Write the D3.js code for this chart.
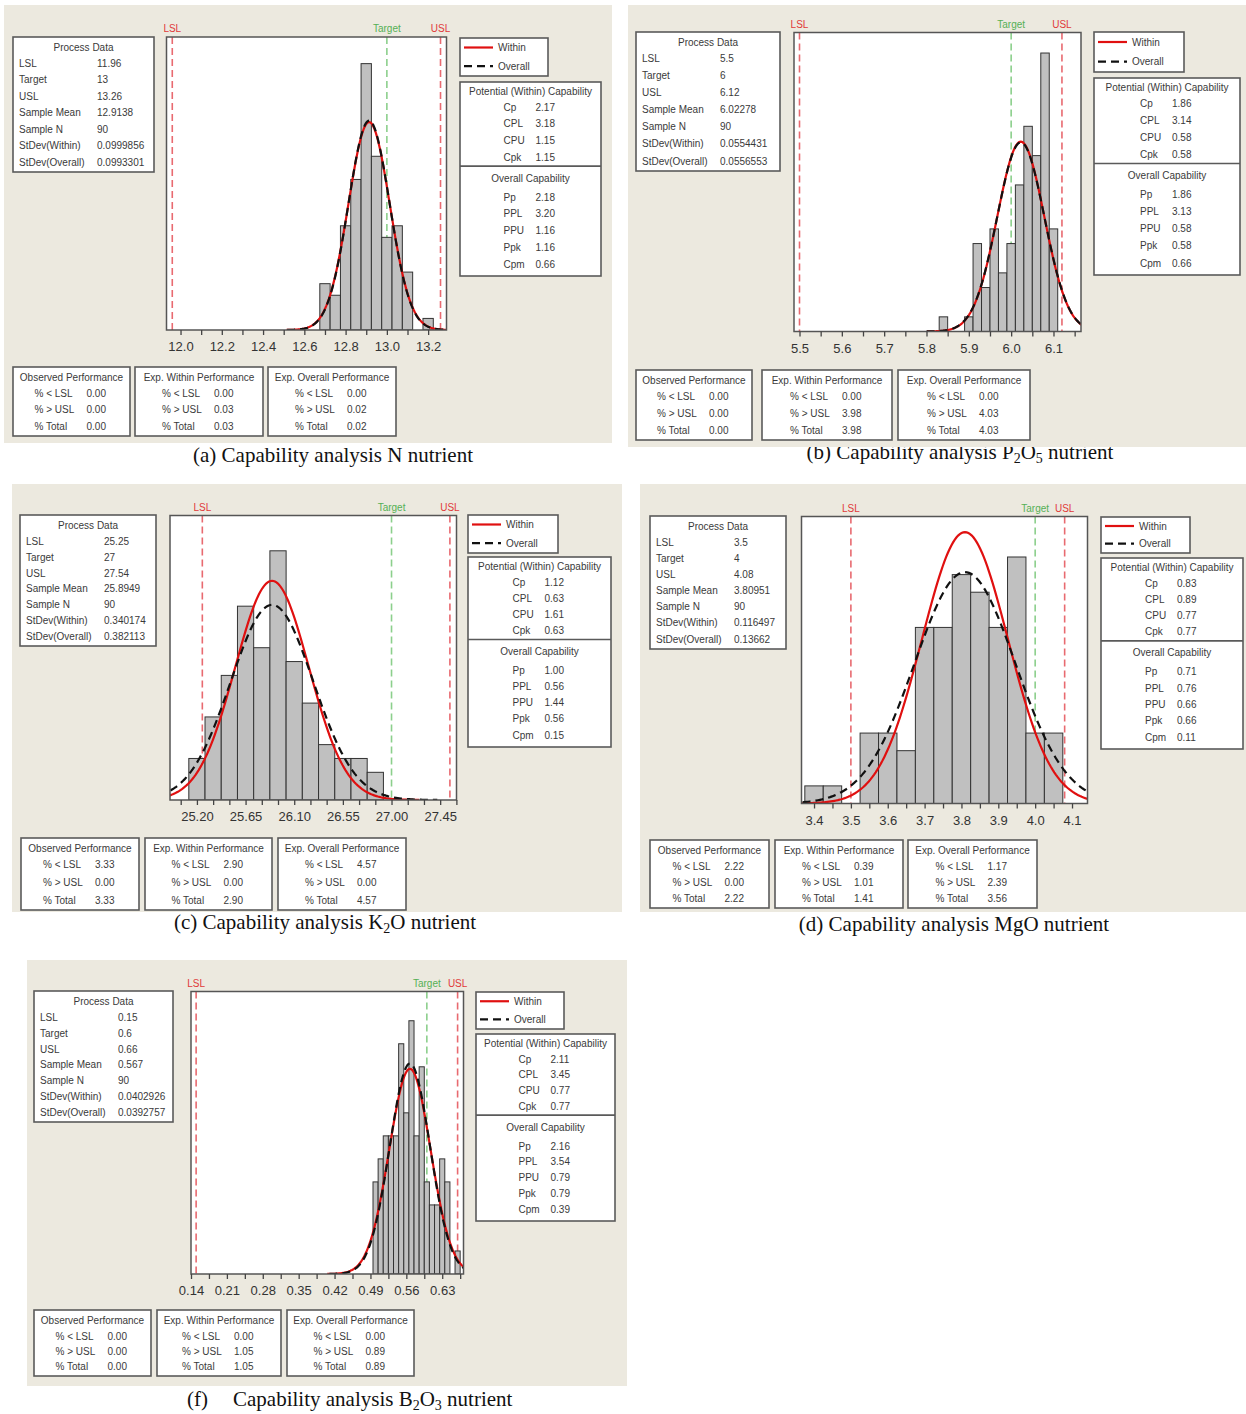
<!DOCTYPE html>
<html>
<head>
<meta charset="utf-8">
<script src="https://cdn.jsdelivr.net/npm/d3@7"></script>
<style>
  body { margin: 0; background: #fff; }
  svg { display: block; }
  text { font-family: 'Liberation Sans', Arial, sans-serif; }
  text.caption { font-family: 'Liberation Serif', 'Times New Roman', serif; }
</style>
</head>
<body>
<svg id="chart"></svg>
<script>
// ---- data ----
// (a) N
const nBins = [12.70, 12.75, 12.80, 12.85, 12.90, 12.95, 13.00, 13.05, 13.10, 13.15, 13.20]
const nCounts = [4, 3, 9, 13, 23, 15, 8, 9, 5, 0, 1]
const nProcess = [11.96, 13, 13.26, 12.9138, 90, 0.0999856, 0.0993301]
const nCapability = [2.17, 3.18, 1.15, 1.15, 2.18, 3.20, 1.16, 1.16, 0.66]
const nPerformance = [[0, 0, 0], [0, 0.03, 0.03], [0, 0.02, 0.02]]
const nTicks = [12.0, 12.2, 12.4, 12.6, 12.8, 13.0, 13.2]

// (b) P2O5
const pBins = [5.84, 5.86, 5.88, 5.90, 5.92, 5.94, 5.96, 5.98, 6.00, 6.02, 6.04, 6.06, 6.08, 6.10]
const pCounts = [1, 0, 0, 1, 6, 3, 7, 4, 6, 10, 14, 12, 19, 7]
const pProcess = [5.5, 6, 6.12, 6.02278, 90, 0.0554431, 0.0556553]
const pCapability = [1.86, 3.14, 0.58, 0.58, 1.86, 3.13, 0.58, 0.58, 0.66]
const pPerformance = [[0, 0, 0], [0, 3.98, 3.98], [0, 4.03, 4.03]]
const pTicks = [5.5, 5.6, 5.7, 5.8, 5.9, 6.0, 6.1]

// (c) K2O
const kBins = [25.20, 25.35, 25.50, 25.65, 25.80, 25.95, 26.10, 26.25, 26.40, 26.55, 26.70, 26.85]
const kCounts = [3, 6, 9, 14, 11, 18, 10, 7, 4, 3, 3, 2]
const kProcess = [25.25, 27, 27.54, 25.8949, 90, 0.340174, 0.382113]
const kCapability = [1.12, 0.63, 1.61, 0.63, 1.00, 0.56, 1.44, 0.56, 0.15]
const kPerformance = [[3.33, 0, 3.33], [2.90, 0, 2.90], [4.57, 0, 4.57]]
const kTicks = [25.20, 25.65, 26.10, 26.55, 27.00, 27.45]

// (d) MgO
const mBins = [3.40, 3.45, 3.50, 3.55, 3.60, 3.65, 3.70, 3.75, 3.80, 3.85, 3.90, 3.95, 4.00, 4.05]
const mCounts = [1, 1, 0, 4, 4, 3, 10, 10, 13, 12, 10, 14, 4, 4]
const mProcess = [3.5, 4, 4.08, 3.80951, 90, 0.116497, 0.13662]
const mCapability = [0.83, 0.89, 0.77, 0.77, 0.71, 0.76, 0.66, 0.66, 0.11]
const mPerformance = [[2.22, 0, 2.22], [0.39, 1.01, 1.41], [1.17, 2.39, 3.56]]
const mTicks = [3.4, 3.5, 3.6, 3.7, 3.8, 3.9, 4.0, 4.1]

// (f) B2O3
const bBins = [0.50, 0.51, 0.52, 0.53, 0.54, 0.55, 0.56, 0.57, 0.58, 0.59, 0.60, 0.61, 0.62, 0.63, 0.64, 0.65, 0.66]
const bCounts = [4, 5, 6, 6, 6, 10, 7, 11, 6, 9, 4, 3, 3, 5, 4, 0, 1]
const bProcess = [0.15, 0.6, 0.66, 0.567, 90, 0.0402926, 0.0392757]
const bCapability = [2.11, 3.45, 0.77, 0.77, 2.16, 3.54, 0.79, 0.79, 0.39]
const bPerformance = [[0, 0, 0], [0, 1.05, 1.05], [0, 0.89, 0.89]]
const bTicks = [0.14, 0.21, 0.28, 0.35, 0.42, 0.49, 0.56, 0.63]

const procLabels = ['LSL', 'Target', 'USL', 'Sample Mean', 'Sample N', 'StDev(Within)', 'StDev(Overall)']
const capLabels = ['Cp', 'CPL', 'CPU', 'Cpk', 'Pp', 'PPL', 'PPU', 'Ppk', 'Cpm']
const perfTitles = ['Observed Performance', 'Exp. Within Performance', 'Exp. Overall Performance']
const perfLabels = ['% < LSL', '% > USL', '% Total']

// ---- layout of each panel (pixel boxes are [x0, y0, x1, y1]) ----
let panels = [
  {bins: nBins, counts: nCounts, proc: nProcess, cap: nCapability, perf: nPerformance, ticks: nTicks,
   minor: 0.1, fmt: '.1f', xDomain: [11.932, 13.289], yMax: 25.3,
   bg: [4, 5, 612, 443], procBox: [13, 37, 154, 172], plot: [166.5, 37, 446.5, 330],
   legend: [460, 38, 548, 76], capBox: [460, 82, 601, 276],
   perfY: [367, 436], perfX: [[13, 130], [135, 263], [268, 396]],
   caption: {x: 333, y: 456, parts: [['(a) Capability analysis N nutrient']]}},
  {bins: pBins, counts: pCounts, proc: pProcess, cap: pCapability, perf: pPerformance, ticks: pTicks,
   minor: 0.05, fmt: '.1f', xDomain: [5.487, 6.165], yMax: 20.4,
   bg: [628, 5, 1246, 447], procBox: [636, 32, 780, 171], plot: [794, 32.5, 1081, 331.5],
   legend: [1094, 32, 1184, 72], capBox: [1094, 78, 1240, 275],
   perfY: [370, 440], perfX: [[636, 752], [762, 892], [898, 1030]],
   caption: {x: 960, y: 453, parts: [['(b) Capability analysis P'], ['2', 1], ['O'], ['5', 1], [' nutrient']]}},
  {bins: kBins, counts: kCounts, proc: kProcess, cap: kCapability, perf: kPerformance, ticks: kTicks,
   minor: 0.15, fmt: '.2f', xDomain: [24.951, 27.601], yMax: 20.55,
   bg: [12, 484, 622, 912], procBox: [20, 515, 156, 646], plot: [170, 515.5, 456.5, 800],
   legend: [468, 515, 558, 553], capBox: [468, 557, 611, 747],
   perfY: [838, 910], perfX: [[21, 139], [145, 272], [278, 406]],
   caption: {x: 325, y: 923, parts: [['(c) Capability analysis K'], ['2', 1], ['O nutrient']]}},
  {bins: mBins, counts: mCounts, proc: mProcess, cap: mCapability, perf: mPerformance, ticks: mTicks,
   minor: 0.05, fmt: '.1f', xDomain: [3.366, 4.142], yMax: 16.3,
   bg: [640, 484, 1246, 912], procBox: [650, 516, 786, 649], plot: [801.5, 516.5, 1087.5, 803.5],
   legend: [1101, 517, 1190, 553], capBox: [1101, 558, 1243, 749],
   perfY: [840, 908], perfX: [[650, 769], [775, 903], [908, 1037]],
   caption: {x: 954, y: 925, parts: [['(d) Capability analysis MgO nutrient']]}},
  {bins: bBins, counts: bCounts, proc: bProcess, cap: bCapability, perf: bPerformance, ticks: bTicks,
   minor: 0.035, fmt: '.2f', xDomain: [0.140, 0.6715], yMax: 12.27,
   bg: [27, 960, 627, 1386], procBox: [34, 991, 173, 1122], plot: [191, 991.5, 463.5, 1274],
   legend: [476, 992, 564, 1029], capBox: [476, 1034, 615, 1221],
   perfY: [1310, 1376], perfX: [[34, 151], [157, 281], [287, 414]],
   caption: {x: 233, y: 1400, anchor: 'start', prefix: '(f)', prefixX: 187,
             parts: [['Capability analysis B'], ['2', 1], ['O'], ['3', 1], [' nutrient']]}}
]

let w = 1246
let h = 1414
let textCol = '#3a3a3a'
let boxFont = 10

let svg = d3.select('#chart').attr('width', w).attr('height', h)

let addBox = (g, r) => {
  g.append('rect')
    .attr('x', r[0]).attr('y', r[1])
    .attr('width', r[2] - r[0]).attr('height', r[3] - r[1])
    .attr('fill', '#fff')
    .attr('stroke', '#5a5a5a')
    .attr('stroke-width', 1.6)
}

let addText = (g, x, y, str, anchor) => {
  return g.append('text')
    .attr('x', x).attr('y', y)
    .attr('dy', '0.35em')
    .attr('text-anchor', anchor || 'start')
    .attr('font-size', boxFont)
    .attr('fill', textCol)
    .text(str)
}

let normalPdf = (x, mu, sd) => Math.exp(-0.5 * ((x - mu) / sd) ** 2) / (sd * Math.sqrt(2 * Math.PI))

// captions first: the panel background of (b) sits over the top of its caption
let drawCaption = (p) => {
  let c = p.caption
  if (c.prefix) {
    svg.append('text')
      .attr('class', 'caption')
      .attr('x', c.prefixX).attr('y', c.y + 6)
      .attr('font-size', 21).attr('fill', '#111')
      .text(c.prefix)
  }
  let t = svg.append('text')
    .attr('class', 'caption')
    .attr('x', c.x).attr('y', c.y + 6)
    .attr('text-anchor', c.anchor || 'middle')
    .attr('font-size', 21).attr('fill', '#111')
  c.parts.forEach((part) => {
    let s = t.append('tspan').text(part[0])
    if (part[1]) {
      s.attr('font-size', 14).attr('dy', 4)
    } else if (t.selectAll('tspan').size() > 1) {
      s.attr('dy', -4)
    }
  })
}

let drawPanel = (p, idx) => {
  let g = svg.append('g')

  g.append('rect')
    .attr('x', p.bg[0]).attr('y', p.bg[1])
    .attr('width', p.bg[2] - p.bg[0]).attr('height', p.bg[3] - p.bg[1])
    .attr('fill', '#ece9df')

  // process data
  let pb = p.procBox
  addBox(g, pb)
  let ps = (pb[3] - pb[1] - 36.5) / 6
  addText(g, (pb[0] + pb[2]) / 2, pb[1] + 10, 'Process Data', 'middle')
  procLabels.forEach((lab, i) => {
    let y = pb[1] + 26.5 + i * ps
    addText(g, pb[0] + 6, y, lab)
    addText(g, pb[0] + 84, y, String(p.proc[i]))
  })

  // legend
  let lb = p.legend
  addBox(g, lb)
  let ly1 = lb[1] + (lb[3] - lb[1]) * 0.25
  let ly2 = lb[1] + (lb[3] - lb[1]) * 0.74
  g.append('line').attr('x1', lb[0] + 4).attr('x2', lb[0] + 33).attr('y1', ly1).attr('y2', ly1)
    .attr('stroke', '#e01010').attr('stroke-width', 2.2)
  g.append('line').attr('x1', lb[0] + 4).attr('x2', lb[0] + 33).attr('y1', ly2).attr('y2', ly2)
    .attr('stroke', '#111').attr('stroke-width', 2.2).attr('stroke-dasharray', '8,5')
  addText(g, lb[0] + 38, ly1, 'Within')
  addText(g, lb[0] + 38, ly2, 'Overall')

  // capability
  let cb = p.capBox
  addBox(g, cb)
  let cs = (cb[3] - cb[1] - 77) / 7
  let ccx = (cb[0] + cb[2]) / 2
  let f2 = d3.format('.2f')
  addText(g, ccx, cb[1] + 9, 'Potential (Within) Capability', 'middle')
  for (let i = 0; i < 4; i++) {
    let y = cb[1] + 25 + i * cs
    addText(g, ccx - 27, y, capLabels[i])
    addText(g, ccx + 5, y, f2(p.cap[i]))
  }
  let divY = cb[1] + 25 + 3 * cs + 9
  g.append('line').attr('x1', cb[0]).attr('x2', cb[2]).attr('y1', divY).attr('y2', divY)
    .attr('stroke', '#5a5a5a').attr('stroke-width', 1.6)
  addText(g, ccx, divY + 12, 'Overall Capability', 'middle')
  for (let i = 4; i < 9; i++) {
    let y = divY + 31 + (i - 4) * cs
    addText(g, ccx - 27, y, capLabels[i])
    addText(g, ccx + 5, y, f2(p.cap[i]))
  }

  // performance boxes
  p.perfX.forEach((px, j) => {
    let r = [px[0], p.perfY[0], px[1], p.perfY[1]]
    addBox(g, r)
    let cx = (px[0] + px[1]) / 2
    let s = (r[3] - r[1] - 36) / 2
    addText(g, cx, r[1] + 10, perfTitles[j], 'middle')
    perfLabels.forEach((lab, i) => {
      let y = r[1] + 26 + i * s
      addText(g, cx - 37, y, lab)
      addText(g, cx + 15, y, f2(p.perf[j][i]))
    })
  })

  // histogram
  let pl = p.plot
  let xScale = d3.scaleLinear().domain(p.xDomain).range([pl[0], pl[2]])
  let yScale = d3.scaleLinear().domain([0, p.yMax]).range([pl[3], pl[1]])
  let clipId = 'clip' + idx
  g.append('clipPath').attr('id', clipId)
    .append('rect').attr('x', pl[0]).attr('y', pl[1])
    .attr('width', pl[2] - pl[0]).attr('height', pl[3] - pl[1])

  g.append('rect')
    .attr('x', pl[0]).attr('y', pl[1])
    .attr('width', pl[2] - pl[0]).attr('height', pl[3] - pl[1])
    .attr('fill', '#fff')

  // spec lines
  let specs = [
    {v: p.proc[0], name: 'LSL', line: '#e86a70', label: '#e03a3a'},
    {v: p.proc[1], name: 'Target', line: '#8ccf8c', label: '#55b055'},
    {v: p.proc[2], name: 'USL', line: '#e86a70', label: '#e03a3a'}
  ]
  specs.forEach((s) => {
    let x = xScale(s.v)
    g.append('line').attr('x1', x).attr('x2', x).attr('y1', pl[1]).attr('y2', pl[3])
      .attr('stroke', s.line).attr('stroke-width', 1.6).attr('stroke-dasharray', '7,4')
    g.append('text').attr('x', x).attr('y', pl[1] - 5)
      .attr('text-anchor', 'middle').attr('font-size', boxFont)
      .attr('fill', s.label).text(s.name)
  })

  let bw = p.bins[1] - p.bins[0]
  g.append('g').attr('clip-path', 'url(#' + clipId + ')')
    .selectAll('rect')
    .data(p.bins.map((b, i) => [b, p.counts[i]]).filter((d) => d[1] > 0))
    .enter()
    .append('rect')
    .attr('x', (d) => xScale(d[0] - bw / 2))
    .attr('width', (d) => xScale(d[0] + bw / 2) - xScale(d[0] - bw / 2))
    .attr('y', (d) => yScale(d[1]))
    .attr('height', (d) => yScale(0) - yScale(d[1]))
    .attr('fill', '#c0c0c0')
    .attr('stroke', '#333')
    .attr('stroke-width', 1)

  // fitted normal curves (within = red solid, overall = black dashed)
  let n = p.proc[4]
  let mu = p.proc[3]
  let curve = (sd) => {
    let lo = mu - 4 * sd
    let hi = mu + 4 * sd
    return d3.range(0, 201).map((k) => {
      let x = lo + (hi - lo) * k / 200
      return [x, n * bw * normalPdf(x, mu, sd)]
    })
  }
  let line = d3.line().x((d) => xScale(d[0])).y((d) => yScale(d[1]))
  let cg = g.append('g').attr('clip-path', 'url(#' + clipId + ')')
  cg.append('path').attr('d', line(curve(p.proc[5])))
    .attr('fill', 'none').attr('stroke', '#e01010').attr('stroke-width', 2.2)
  cg.append('path').attr('d', line(curve(p.proc[6])))
    .attr('fill', 'none').attr('stroke', '#111').attr('stroke-width', 2.2)
    .attr('stroke-dasharray', '8,5')

  // frame
  g.append('rect')
    .attr('x', pl[0]).attr('y', pl[1])
    .attr('width', pl[2] - pl[0]).attr('height', pl[3] - pl[1])
    .attr('fill', 'none').attr('stroke', '#555').attr('stroke-width', 1.5)

  // x axis: minor ticks every step, labels on the listed ticks
  let step = p.minor
  let k0 = Math.ceil(p.xDomain[0] / step - 1e-6)
  let k1 = Math.floor(p.xDomain[1] / step + 1e-6)
  let minorTicks = d3.range(k0, k1 + 1).map((k) => +(k * step).toFixed(4))
  let fmt = d3.format(p.fmt)
  let isLabel = (v) => p.ticks.some((t) => Math.abs(t - v) < 1e-6)
  let xAxis = d3.axisBottom(xScale)
    .tickValues(minorTicks)
    .tickSize(5)
    .tickPadding(7)
    .tickFormat((v) => isLabel(v) ? fmt(v) : '')
  let ax = g.append('g')
    .attr('transform', 'translate(0,' + pl[3] + ')')
    .call(xAxis)
  ax.select('.domain').remove()
  ax.selectAll('line').attr('stroke', '#444').attr('stroke-width', 1.3)
  ax.selectAll('text')
    .attr('font-size', 13)
    .attr('fill', '#333')
}

panels.forEach(drawCaption)
panels.forEach(drawPanel)
</script>
</body>
</html>
